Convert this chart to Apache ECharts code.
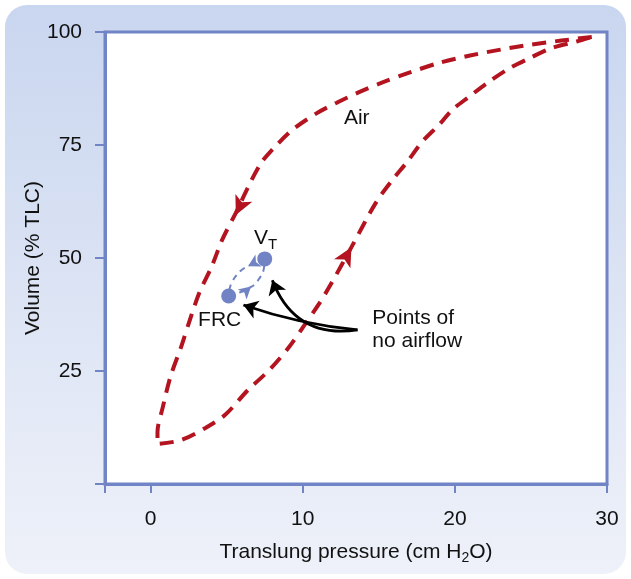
<!DOCTYPE html>
<html><head><meta charset="utf-8">
<script src="https://cdn.jsdelivr.net/npm/echarts@6/dist/echarts.min.js"></script>
<style>html,body{margin:0;padding:0;background:#fff}#c{width:631px;height:579px}</style>
</head><body><div id="c"></div>
<script>
// Axis ticks / labels
const xTicks = [-3, 0, 10, 20, 30];
const xLabels = [0, 10, 20, 30];
const yTicks = [0, 25, 50, 75, 100];
const yLabels = [25, 50, 75, 100];

// Pressure-volume loop (translung pressure cm H2O, volume %TLC)
const inflation = [[0.6,8.9],[2.0,9.7],[3.6,12.4],[4.9,15.3],[6.4,20.8],[7.8,25.2],[9.1,30.3],[10.2,35.6],[11.1,40.0],[11.9,44.5],[13.2,52.4],[14.8,62.2],[15.9,67.3],[16.8,71.0],[17.9,75.9],[19.0,79.6],[19.8,82.7],[20.9,85.6],[22.2,88.9],[23.6,92.0],[24.9,94.2],[26.4,96.5],[28.0,97.9],[29.0,98.9]];
const deflation = [[29.0,98.9],[27.0,98.1],[25.0,97.2],[23.0,96.1],[21.0,94.8],[19.0,93.2],[17.0,91.0],[15.2,88.8],[13.7,86.7],[12.2,84.3],[10.9,82.0],[9.3,78.3],[8.0,74.0],[7.3,71.2],[6.6,67.0],[5.6,60.0],[4.7,54.0],[4.0,48.0],[3.2,42.3],[2.5,35.5],[2.0,30.3],[1.3,23.7],[0.8,17.0],[0.45,11.5],[0.45,9.5],[0.6,8.9]];
const loopArrows = [[5.6,59.5,155],[13.2,52.4,-29]];

// Tidal breathing loop
const tidalExp = [[7.5,49.8],[7.0,49.0],[6.45,48.3],[6.0,47.4],[5.65,46.2],[5.35,44.7],[5.2,43.3],[5.13,41.6]];
const tidalInsp = [[5.13,41.6],[5.66,42.2],[6.12,42.7],[6.5,43.4],[6.85,44.2],[7.15,45.5],[7.4,47.0],[7.5,49.8]];
const tidalArrows = [[6.4,48.2,118],[6.6,43.7,-48]];
const keyPoints = [[5.13,41.6],[7.5,49.8]]; // FRC, VT

// Annotations
const noFlowFrom = [13.6,34.1];
const noFlowTo = [[6.1,39.6],[8.0,45.1]];
const noFlowCurve = [0.06,0.4];
const labelTexts = ['Air', 'V{sub|T}', 'FRC', 'Points of\nno airflow'];
const labelPos = [[13.55,81.0],[7.55,54.4],[4.54,36.3],[14.54,34.2]];

const FONT = "'Liberation Sans', Arial, Helvetica, sans-serif";
const RED = '#b3141f', BLUE = '#7183c5', AX = '#7184c6', INK = '#111';

const chart = echarts.init(document.getElementById('c'), null, {renderer:'canvas'});
chart.setOption({
  animation: false,
  backgroundColor: '#fff',
  graphic: [{
    type: 'rect', z: -10, silent: true,
    shape: {x: 5, y: 5, width: 621, height: 569, r: 22},
    style: {fill: new echarts.graphic.LinearGradient(0,0,0,1,[{offset:0,color:'#c9d6ef'},{offset:1,color:'#eef1f9'}])}
  }],
  grid: {left: 105, right: 24, top: 32, bottom: 95, show: true, backgroundColor: '#fff', borderColor: AX, borderWidth: 3},
  xAxis: {
    type: 'value', min: -3, max: 30,
    name: 'Translung pressure (cm H{sub|2}O)', nameLocation: 'middle', nameGap: 56, nameMoveOverlap: false,
    nameTextStyle: {fontFamily: FONT, fontSize: 21, color: INK, rich: {sub: {fontFamily: FONT, fontSize: 14, padding: [11,0,0,0], color: INK}}},
    axisLine: {onZero: false, lineStyle: {color: AX, width: 3}},
    axisTick: {customValues: xTicks, length: 9, lineStyle: {color: AX, width: 2}},
    axisLabel: {customValues: xLabels, fontFamily: FONT, fontSize: 21, color: INK, margin: 25},
    splitLine: {show: false}
  },
  yAxis: {
    type: 'value', min: 0, max: 100,
    name: 'Volume (% TLC)', nameLocation: 'middle', nameGap: 61, nameMoveOverlap: false,
    nameTextStyle: {fontFamily: FONT, fontSize: 21, color: INK},
    axisLine: {onZero: false, lineStyle: {color: AX, width: 3}},
    axisTick: {customValues: yTicks, length: 10, lineStyle: {color: AX, width: 2}},
    axisLabel: {customValues: yLabels, fontFamily: FONT, fontSize: 21, color: INK, margin: 23},
    splitLine: {show: false}
  },
  series: [
    {type:'line', data: inflation, smooth: 0.3, symbol:'none', lineStyle:{color:RED, width:4, type:[14,9], cap:'butt'}, z:3},
    {type:'line', data: deflation, smooth: 0.3, symbol:'none', lineStyle:{color:RED, width:4, type:[14,9], cap:'butt'}, z:3},
    {type:'scatter', data: loopArrows.map(a=>({value:[a[0],a[1]], symbolRotate:a[2]})), symbol:'arrow', symbolSize:[14,19], itemStyle:{color:RED, opacity:1}, z:4},
    {type:'line', data: tidalExp, smooth: 0.4, symbol:'none', lineStyle:{color:BLUE, width:2, type:[6,5]}, z:3},
    {type:'line', data: tidalInsp, smooth: 0.4, symbol:'none', lineStyle:{color:BLUE, width:2, type:[6,5]}, z:3},
    {type:'scatter', data: tidalArrows.map(a=>({value:[a[0],a[1]], symbolRotate:a[2]})), symbol:'arrow', symbolSize:[10,12], itemStyle:{color:BLUE, opacity:1}, z:4},
    {type:'scatter', data: keyPoints, symbol:'circle', symbolSize:15, itemStyle:{color:BLUE, opacity:1}, z:5},
    {type:'lines', coordinateSystem:'cartesian2d', z:6,
     data: noFlowTo.map((t,i)=>({coords:[noFlowFrom, t], lineStyle:{curveness:noFlowCurve[i]}})),
     symbol:['none','arrow'], symbolSize:14,
     lineStyle:{color:'#000', width:2.8, opacity:1}},
    {type:'scatter', z:7, symbolSize:1, itemStyle:{color:'rgba(0,0,0,0)'},
     data: labelPos.map((p,i)=>({value:p, label:{
       show:true, formatter: labelTexts[i], fontFamily: FONT, fontSize: 21, color: INK,
       textBorderWidth: 0, opacity: 1,
       position: i===3 ? 'right' : 'inside', distance: 0, align: i===3 ? 'left' : 'center',
       lineHeight: 23,
       rich: {sub: {fontFamily: FONT, fontSize: 15, padding:[13,0,0,0], color: INK}}
     }}))}
  ]
});
</script></body></html>
